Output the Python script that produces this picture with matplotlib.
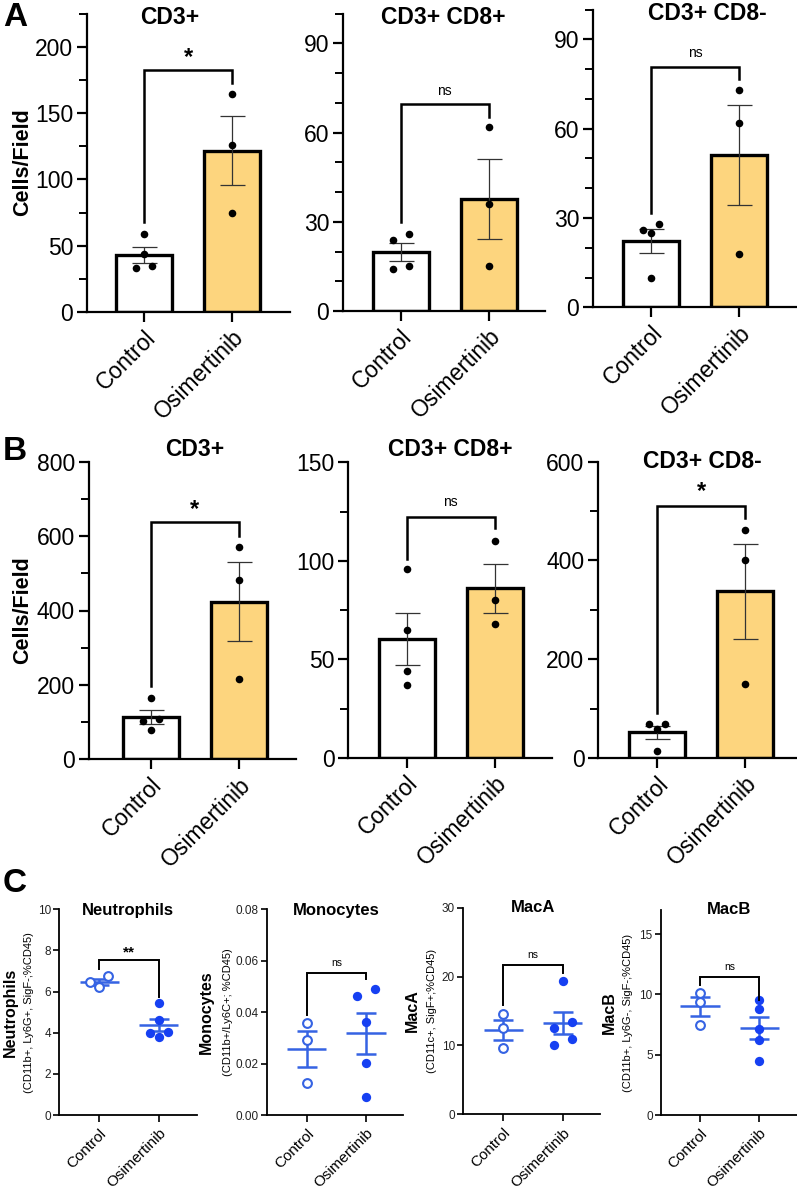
import numpy as np
import matplotlib
matplotlib.use("Agg")
import matplotlib.pyplot as plt
from matplotlib.ticker import MultipleLocator, FormatStrFormatter

plt.rcParams["font.family"] = ["Liberation Sans", "DejaVu Sans"]

groups = ["Control", "Osimertinib"]

# panel A, cells/field
a_titles = ["CD3+", "CD3+ CD8+", "CD3+ CD8-"]
a_cd3_ctrl = [59, 44, 35, 33]
a_cd3_osi = [164, 126, 75]
a_cd8p_ctrl = [26, 24, 15, 14]
a_cd8p_osi = [62, 36, 15]
a_cd8n_ctrl = [28, 26, 25, 10]
a_cd8n_osi = [73, 62, 18]
a_sig = ["*", "ns", "ns"]

# panel B, cells/field
b_titles = ["CD3+", "CD3+ CD8+", "CD3+ CD8-"]
b_cd3_ctrl = [165, 108, 103, 79]
b_cd3_osi = [572, 482, 217]
b_cd8p_ctrl = [96, 65, 44, 37]
b_cd8p_osi = [110, 80, 68]
b_cd8n_ctrl = [69, 69, 58, 14]
b_cd8n_osi = [462, 401, 149]
b_sig = ["*", "ns", "*"]

# panel C, % of CD45
c_titles = ["Neutrophils", "Monocytes", "MacA", "MacB"]
c_sublabels = ["(CD11b+, Ly6G+, SigF-;%CD45)", "(CD11b+/Ly6C+; %CD45)",
               "(CD11c+, SigF+;%CD45)", "(CD11b+, Ly6G-, SigF-;%CD45)"]
c_neu_ctrl = [6.75, 6.2, 6.45]
c_neu_osi = [5.45, 4.6, 4.05, 4.0, 3.8]
c_mono_ctrl = [0.0357, 0.0292, 0.0123]
c_mono_osi = [0.049, 0.0464, 0.0363, 0.0201, 0.0071]
c_maca_ctrl = [14.5, 12.6, 9.6]
c_maca_osi = [19.3, 13.4, 12.5, 11.0, 10.0]
c_macb_ctrl = [10.1, 9.4, 7.5]
c_macb_osi = [9.5, 8.8, 7.1, 6.2, 4.5]
c_sig = ["**", "ns", "ns", "ns"]

W, H = 797, 1200
fig = plt.figure(figsize=(W / 100, H / 100), dpi=100)


def add_ax(left, top, right, bottom):
    return fig.add_axes([left / W, 1 - bottom / H, (right - left) / W, (bottom - top) / H])


def ftext(x, y, s, **kw):
    fig.text(x / W, 1 - y / H, s, **kw)


def swarm(vals, px_unit, d_px, step_px, px_x):
    # simple beeswarm: points closer than d_px get pushed to the sides
    vals = np.asarray(vals, float)
    order = np.argsort(vals)
    offs = np.zeros(len(vals))
    clusters, cur = [], [order[0]]
    for i in order[1:]:
        if (vals[i] - vals[cur[-1]]) * px_unit < d_px:
            cur.append(i)
        else:
            clusters.append(cur)
            cur = [i]
    clusters.append(cur)
    for cl in clusters:
        pat = [-1, 1] if len(cl) == 2 else [0, -1, 1, -2, 2][:len(cl)]
        for idx, p in zip(cl, pat):
            offs[idx] = p * step_px / px_x
    return offs


def bracket(ax, y1, ytop, y2, label, size, bold, lw, x1=0, x2=1):
    ax.plot([x1, x1, x2, x2], [y1, ytop, ytop, y2], color="black", lw=lw,
            solid_joinstyle="miter", clip_on=False, zorder=5)
    return ax.text((x1 + x2) / 2, label[1], label[0], ha="center", va="center",
                   fontsize=size, fontweight="bold" if bold else "normal")


# ---------- bar panels (A, B) ----------
SP = 88.0
bar_layout = [
    # left, top, right, bottom, control centre (px)
    (87, 13.6, 290, 312, 144),
    (343, 13.7, 545, 311, 400.7),
    (593, 9.6, 797, 307.3, 651),
    (89, 461.7, 296, 759.3, 150.7),
    (348.3, 462.3, 551.7, 757.8, 406.7),
    (598.3, 461.7, 800, 758, 657.3),
]
bar_scales = [(225, 50, 25), (100, 30, 10), (100, 30, 10),
              (800, 200, 100), (150, 50, 25), (600, 200, 100)]
bar_brackets = [(68, 182.5, 173, 192), (30, 69.6, 65.3, 74), (31.6, 80.8, 76.6, 85.5),
                (198, 637, 601, 671), (101, 122.4, 116.5, 130), (92, 510.7, 485, 539)]
bar_data = [(a_cd3_ctrl, a_cd3_osi), (a_cd8p_ctrl, a_cd8p_osi), (a_cd8n_ctrl, a_cd8n_osi),
            (b_cd3_ctrl, b_cd3_osi), (b_cd8p_ctrl, b_cd8p_osi), (b_cd8n_ctrl, b_cd8n_osi)]
bar_titles = a_titles + b_titles
bar_sig = a_sig + b_sig
bar_title_pos = [(170, 17), (443, 17), (707, 14), (195, 450), (450, 450), (702, 461)]

for k, (lay, sc, br, (ctrl, osi)) in enumerate(zip(bar_layout, bar_scales, bar_brackets, bar_data)):
    left, top, right, bottom, cc = lay
    ax = add_ax(left, top, right, bottom)
    ymax, major, minor = sc
    ax.set_ylim(0, ymax)
    ax.set_xlim((left - cc) / SP, (right - cc) / SP)
    px_unit = (bottom - top) / ymax
    means = [np.mean(ctrl), np.mean(osi)]
    sems = [np.std(ctrl, ddof=1) / np.sqrt(len(ctrl)), np.std(osi, ddof=1) / np.sqrt(len(osi))]
    ax.bar([0, 1], means, width=0.64, color=["white", "#FDD57E"], edgecolor="black",
           linewidth=2.4, zorder=2)
    ax.errorbar([0, 1], means, yerr=sems, fmt="none", ecolor="#333333", elinewidth=0.9,
                capsize=9, capthick=0.9, zorder=3)
    for x0, vals in [(0, ctrl), (1, osi)]:
        xs = x0 + swarm(vals, px_unit, 8, 8, SP)
        ax.scatter(xs, vals, s=30, color="black", zorder=4, linewidths=0)
    y1, yt, y2, ytx = br
    sym = bar_sig[k]
    if sym == "ns":
        bracket(ax, y1, yt, y2, ("ns", ytx), 10, False, 1.8)
    else:
        bracket(ax, y1, yt, y2, (sym, ytx), 17, True, 1.8)
    for s in ["top", "right"]:
        ax.spines[s].set_visible(False)
    for s in ["left", "bottom"]:
        ax.spines[s].set_linewidth(1.6)
    ax.yaxis.set_major_locator(MultipleLocator(major))
    ax.yaxis.set_minor_locator(MultipleLocator(minor))
    ax.set_xticks([0, 1])
    ax.set_xticklabels(groups, rotation=45, ha="right", va="top", rotation_mode="anchor",
                       fontsize=17)
    ax.tick_params(axis="both", which="major", length=7, width=1.6, labelsize=16.5, pad=3)
    ax.tick_params(axis="y", which="minor", length=6, width=1.4)
    ax.tick_params(axis="x", which="minor", length=0)
    tx, ty = bar_title_pos[k]
    ftext(tx, ty, bar_titles[k], ha="center", va="center", fontsize=16.5, fontweight="bold")

ftext(23, 162, "Cells/Field", rotation=90, ha="center", va="center", fontsize=15.5, fontweight="bold")
ftext(23, 610, "Cells/Field", rotation=90, ha="center", va="center", fontsize=15.5, fontweight="bold")

# ---------- scatter panels (C) ----------
SPC = 59.3
c_layout = [
    (59.3, 909.3, 197, 1115, 99.3),
    (266.7, 909.3, 403, 1115, 306.7),
    (463.3, 907.7, 600, 1114.3, 503.3),
    (661, 910, 797, 1115, 700),
]
c_scales = [(10, 2, "%d"), (0.08, 0.02, "%.2f"), (30, 10, "%d"), (17, 5, "%d")]
c_brackets = [(7.08, 7.53, 5.75, 7.9), (0.0389, 0.0553, 0.0528, 0.0592),
              (15.9, 21.7, 20.5, 23.1), (10.77, 11.46, 9.53, 12.24)]
c_data = [(c_neu_ctrl, c_neu_osi), (c_mono_ctrl, c_mono_osi),
          (c_maca_ctrl, c_maca_osi), (c_macb_ctrl, c_macb_osi)]
c_title_pos = [(128, 910), (336, 910), (533, 908), (729, 910)]
c_label_x = [(10, 29), (206, 228), (412, 432), (609, 628)]
line_blue = "#3563E3"
fill_blue = "#1640F2"

for k, (lay, sc, br, (ctrl, osi)) in enumerate(zip(c_layout, c_scales, c_brackets, c_data)):
    left, top, right, bottom, cc = lay
    ax = add_ax(left, top, right, bottom)
    ymax, major, fmt = sc
    ax.set_ylim(0, ymax)
    ax.set_xlim((left - cc) / SPC, (right - cc) / SPC)
    px_unit = (bottom - top) / ymax
    for x0, vals, filled in [(0, ctrl, False), (1, osi, True)]:
        m = np.mean(vals)
        se = np.std(vals, ddof=1) / np.sqrt(len(vals))
        ax.hlines(m, x0 - 0.33, x0 + 0.33, color=line_blue, lw=1.8, zorder=3)
        ax.errorbar([x0], [m], yerr=[se], fmt="none", ecolor=line_blue, elinewidth=1.8,
                    capsize=7, capthick=1.8, zorder=3)
        xs = x0 + swarm(vals, px_unit, 8, 9, SPC)
        if filled:
            ax.scatter(xs, vals, s=45, color=fill_blue, linewidths=0, zorder=4)
        else:
            ax.scatter(xs, vals, s=40, facecolor="white", edgecolor=line_blue,
                       linewidths=1.5, zorder=4)
    y1, yt, y2, ytx = br
    sym = c_sig[k]
    if sym == "ns":
        bracket(ax, y1, yt, y2, ("ns", ytx), 7.5, False, 1.4)
    else:
        bracket(ax, y1, yt, y2, (sym, ytx), 11, True, 1.4)
    for s in ["top", "right"]:
        ax.spines[s].set_visible(False)
    for s in ["left", "bottom"]:
        ax.spines[s].set_linewidth(1.3)
    ax.yaxis.set_major_locator(MultipleLocator(major))
    ax.yaxis.set_major_formatter(FormatStrFormatter(fmt))
    ax.set_xticks([0, 1])
    ax.set_xticklabels(groups, rotation=45, ha="right", va="top", rotation_mode="anchor",
                       fontsize=11)
    ax.tick_params(axis="y", length=4, width=1.2, labelsize=8.5, pad=2, labelcolor="#222222")
    ax.tick_params(axis="x", length=5, width=1.2, pad=3)
    tx, ty = c_title_pos[k]
    ftext(tx, ty, c_titles[k], ha="center", va="center", fontsize=12, fontweight="bold")
    bx, px = c_label_x[k]
    yc = (top + bottom) / 2
    ftext(bx, yc, c_titles[k], rotation=90, ha="center", va="center", fontsize=11.5,
          fontweight="bold")
    ftext(px, yc, c_sublabels[k], rotation=90, ha="center", va="center", fontsize=8)

# panel letters
ftext(15, 18, "A", ha="center", va="center", fontsize=24, fontweight="bold")
ftext(15, 451, "B", ha="center", va="center", fontsize=24, fontweight="bold")
ftext(15, 884, "C", ha="center", va="center", fontsize=24, fontweight="bold")

fig.savefig("out.png", dpi=100)
